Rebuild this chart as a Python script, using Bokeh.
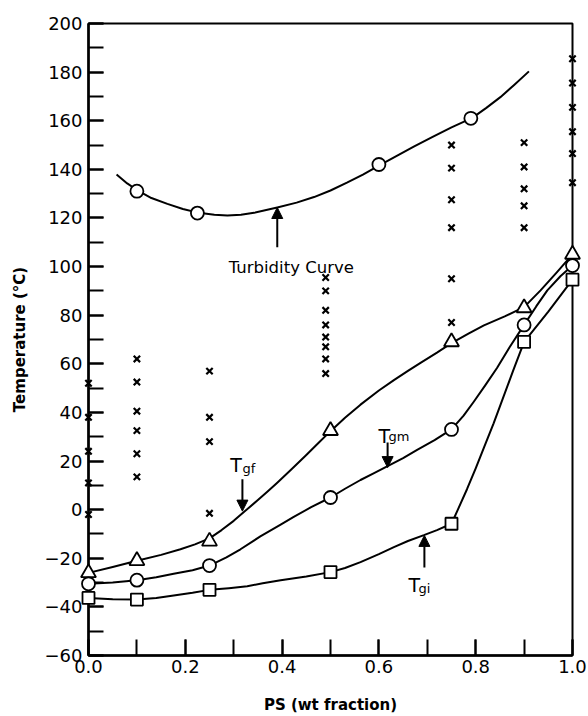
from bokeh.plotting import figure
from bokeh.models import Range1d, SingleIntervalTicker, PrintfTickFormatter, Arrow, NormalHead
from bokeh.core.properties import value
from bokeh.embed import file_html
from bokeh.resources import INLINE

# Blend compositions (PS weight fraction) and glass transition temperatures (deg C)
comp = [0.0, 0.10, 0.25, 0.50, 0.75, 0.90, 1.00]
tg_f = [-26, -21, -13, 32.5, 69, 83, 105]      # triangles
tg_m = [-30.5, -29, -23, 5, 33, 76, 100.4]     # circles
tg_i = [-36.3, -37, -33, -25.7, -5.8, 69, 94.6]  # squares

# Cloud points (turbidity) at the measured compositions
turb_comp = [0.10, 0.225, 0.60, 0.79]
turb_temp = [131, 122, 142, 161]

# Single-phase / transition observations (x marks), grouped by composition
obs_00 = [52, 38, 24, 11, -2]
obs_01 = [62, 52.5, 40.5, 32.5, 23, 13.5]
obs_025 = [57, 38, 28, -1.5]
obs_05 = [95.5, 90, 82, 76, 71, 67, 62, 56]
obs_075 = [150, 140.5, 127.5, 116, 95, 77]
obs_09 = [151, 141, 132, 125, 116]
obs_10 = [185.5, 175.5, 165.5, 155.5, 146.5, 134.5]
obs_comp = [0.0, 0.10, 0.25, 0.49, 0.75, 0.90, 1.00]

# Hand-drawn smooth curves through each series
turb_curve_x = [0.058, 0.080, 0.104, 0.130, 0.163, 0.195, 0.228, 0.26, 0.287, 0.315, 0.342, 0.39, 0.43, 0.466,
                0.50, 0.534, 0.567, 0.60, 0.636, 0.672, 0.71, 0.75, 0.793, 0.822, 0.851, 0.88, 0.91]
turb_curve_t = [137.9, 134.2, 131, 128.2, 125.8, 123.7, 122.1, 121.3, 121, 121.3, 122.1, 124.3, 126.3, 128.6,
                131.3, 134.5, 137.8, 141.5, 145.4, 149.3, 153.3, 157.3, 161.2, 165.3, 169.7, 174.8, 180.3]

tgf_curve_x = [0.0, 0.05, 0.10, 0.15, 0.19, 0.22, 0.25, 0.275, 0.30, 0.321, 0.35, 0.37, 0.39, 0.42, 0.45,
               0.475, 0.50, 0.53, 0.562, 0.60, 0.631, 0.66, 0.686, 0.72, 0.75, 0.785, 0.817, 0.86, 0.90, 0.934,
               0.968, 1.0]
tgf_curve_t = [-26, -23.6, -21, -18.6, -16.3, -14.3, -11.8, -8.4, -4.6, -1.0, 4.0, 7.5, 11.1, 16.7, 22.5,
               27.4, 32.3, 37.8, 43.2, 49.0, 53.3, 57.1, 60.4, 64.6, 68.5, 72.4, 75.8, 79.5, 83.3, 90.2,
               97.7, 105]

tgm_curve_x = [0.0, 0.05, 0.10, 0.14, 0.176, 0.215, 0.25, 0.285, 0.314, 0.355, 0.397, 0.424, 0.46, 0.50,
               0.53, 0.562, 0.59, 0.617, 0.65, 0.679, 0.715, 0.75, 0.775, 0.796, 0.82, 0.844, 0.87, 0.90,
               0.925, 0.948, 0.975, 1.0]
tgm_curve_t = [-30.5, -30, -29, -27.8, -26.4, -24.9, -23, -19.6, -16.3, -11, -6.2, -3, 1, 5,
               8.6, 12.2, 15, 17.8, 21.2, 24.6, 28.6, 33, 38.7, 44.4, 51.2, 58.3, 66.8, 76,
               83.6, 90.2, 96, 100.4]

tgi_curve_x = [0.0, 0.05, 0.10, 0.14, 0.176, 0.215, 0.25, 0.29, 0.328, 0.36, 0.397, 0.45, 0.50, 0.53,
               0.562, 0.60, 0.631, 0.66, 0.693, 0.72, 0.75, 0.765, 0.782, 0.80, 0.817, 0.837, 0.851, 0.877,
               0.90, 0.95, 1.0]
tgi_curve_t = [-36.3, -36.9, -37, -36.3, -35.3, -34.2, -33, -32.3, -31.5, -30.3, -29, -27.5, -25.7, -24,
               -21.6, -18.3, -15.4, -12.9, -10.5, -8.4, -5.8, 0.8, 8.4, 17, 25.5, 35.5, 43, 57,
               69, 81.5, 94.6]

# Annotation arrows (composition, tail temperature, tip temperature)
arrow_x = [0.39, 0.318, 0.618, 0.694]
arrow_from = [107.9, 12.5, 27.6, -23.8]
arrow_to = [124.3, -0.6, 17.3, -10.6]

turb_label = "Turbidity Curve"
turb_label_x, turb_label_y = 0.419, 99.6
tg_main_x = [0.293, 0.599, 0.661]
tg_main_y = [18.2, 30.5, -30.8]
tg_sub_text = ["gf", "gm", "gi"]
tg_sub_x = [0.318, 0.620, 0.682]
tg_sub_y = [16.9, 30.1, -32.4]

FONT = "DejaVu Sans"

p = figure(width=588, height=716,
           x_range=Range1d(0, 1), y_range=Range1d(-60, 200),
           output_backend="svg", toolbar_location=None,
           min_border_left=88, min_border_right=16, min_border_top=23, min_border_bottom=61,
           x_axis_label="PS (wt fraction)", y_axis_label="Temperature (°C)")
p.grid.visible = False
p.outline_line_color = "black"
p.outline_line_width = 2
p.background_fill_color = "white"
p.border_fill_color = "white"

for ax in (p.xaxis[0], p.yaxis[0]):
    ax.axis_line_width = 2.5
    ax.axis_line_color = "black"
    ax.major_tick_line_width = 2
    ax.minor_tick_line_width = 2
    ax.major_tick_line_color = "black"
    ax.minor_tick_line_color = "black"
    ax.major_tick_out = 0
    ax.minor_tick_out = 0
    ax.major_label_text_font = FONT
    ax.major_label_text_font_size = "18px"
    ax.major_label_text_color = "black"
    ax.axis_label_text_font = FONT
    ax.axis_label_text_font_size = "15px"
    ax.axis_label_text_font_style = "bold"
    ax.axis_label_text_color = "black"

p.xaxis.ticker = SingleIntervalTicker(interval=0.2, num_minor_ticks=2)
p.xaxis.formatter = PrintfTickFormatter(format="%.1f")
p.xaxis.major_tick_in = 16
p.xaxis.minor_tick_in = 16
p.xaxis.major_label_standoff = 4
p.xaxis.axis_label_standoff = 20

p.yaxis.ticker = SingleIntervalTicker(interval=20, num_minor_ticks=2)
p.yaxis.major_tick_in = 15
p.yaxis.minor_tick_in = 15
p.yaxis.major_label_standoff = 6
p.yaxis.axis_label_standoff = 13

renderers = []
for cx, ct in [(turb_curve_x, turb_curve_t), (tgf_curve_x, tgf_curve_t),
               (tgm_curve_x, tgm_curve_t), (tgi_curve_x, tgi_curve_t)]:
    renderers.append(p.line(cx, ct, line_color="black", line_width=2, line_join="round"))

for xc, temps in zip(obs_comp, [obs_00, obs_01, obs_025, obs_05, obs_075, obs_09, obs_10]):
    renderers.append(p.scatter([xc] * len(temps), temps, marker="x", size=9,
                               line_color="black", line_width=2.2))

renderers.append(p.scatter(turb_comp, turb_temp, marker="circle", size=13,
                           fill_color="white", line_color="black", line_width=1.8))
renderers.append(p.scatter(comp, tg_f, marker="triangle", size=15,
                           fill_color="white", line_color="black", line_width=1.8))
renderers.append(p.scatter(comp, tg_m, marker="circle", size=13,
                           fill_color="white", line_color="black", line_width=1.8))
renderers.append(p.scatter(comp, tg_i, marker="square", size=12,
                           fill_color="white", line_color="black", line_width=1.8))

for r in renderers:
    r.level = "overlay"

for ax_x, y0, y1 in zip(arrow_x, arrow_from, arrow_to):
    p.add_layout(Arrow(end=NormalHead(size=11, fill_color="black", line_color="black", line_width=1),
                       x_start=ax_x, y_start=y0, x_end=ax_x, y_end=y1,
                       line_color="black", line_width=2))

p.text(x=[turb_label_x], y=[turb_label_y], text=[turb_label],
       text_font=value(FONT), text_font_size="16.5px", text_color="black",
       text_align="center", text_baseline="alphabetic")
p.text(x=tg_main_x, y=tg_main_y, text=["T"] * 3,
       text_font=value(FONT), text_font_size="19px", text_color="black",
       text_align="left", text_baseline="alphabetic")
p.text(x=tg_sub_x, y=tg_sub_y, text=tg_sub_text,
       text_font=value(FONT), text_font_size="13px", text_color="black",
       text_align="left", text_baseline="alphabetic")

open("out.html", "w").write(file_html(p, INLINE))
